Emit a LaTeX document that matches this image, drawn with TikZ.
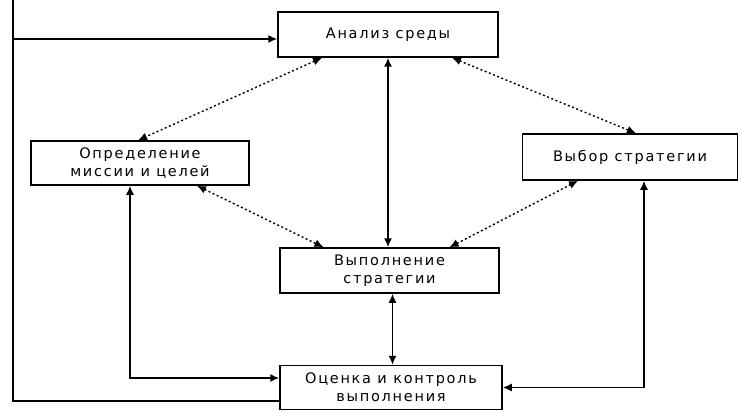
\documentclass[tikz,border=0pt]{standalone}
\usepackage{fontspec}
\setmainfont{DejaVu Sans}[LetterSpace=12]
\usetikzlibrary{arrows.meta}
\begin{document}
\begin{tikzpicture}[x=1pt,y=-1pt,
  box/.style={draw,line width=1.5pt,align=center,inner sep=0pt,font=\fontsize{14.5}{18}\selectfont},
  conn/.style={line width=1.5pt,{Latex[length=9pt,width=8pt]}-{Latex[length=9pt,width=8pt]}},
  oneway/.style={line width=1.5pt,-{Latex[length=9pt,width=8pt]}},
  dotconn/.style={line width=1.4pt,dash pattern=on 2pt off 2.5pt,{Latex[length=9pt,width=8pt]}-{Latex[length=9pt,width=8pt]}}]
\useasboundingbox (0,0) rectangle (742,412);
\node[box,minimum width=220pt,minimum height=45pt] (A) at (388,34.5) {Анализ среды};
\node[box,minimum width=218pt,minimum height=44pt] (O) at (140,163) {Определение\\миссии и целей};
\node[box,minimum width=215pt,minimum height=46pt] (V) at (630,157) {Выбор стратегии};
\node[box,minimum width=219pt,minimum height=45pt] (E) at (389.5,270.5) {Выполнение\\стратегии};
\node[box,minimum width=222pt,minimum height=44pt] (K) at (391,387.5) {Оценка и контроль\\выполнения};
% dotted links
\draw[dotconn] ([xshift=-66pt]A.south) -- ([xshift=-2pt]O.north);
\draw[dotconn] ([xshift=64pt]A.south) -- ([xshift=6pt]V.north);
\draw[dotconn] ([xshift=57pt]O.south) -- ([xshift=-66pt]E.north);
\draw[dotconn] ([xshift=-52pt]V.south) -- ([xshift=60pt]E.north);
% solid links
\draw[conn] (A.south) -- (A.south |- E.north);
\draw[conn] ([xshift=3pt]E.south) -- ([xshift=3pt]E.south |- K.north);
\draw[conn] ([xshift=-10pt]O.south) |- ([yshift=9.5pt]K.west);
\draw[conn] ([xshift=14pt]V.south) |- (K.east);
\coordinate (L) at (13,0);
\draw[oneway] ([yshift=-13.5pt]K.west) -| (L) |- ([yshift=-4.5pt]A.west);
\end{tikzpicture}
\end{document}
